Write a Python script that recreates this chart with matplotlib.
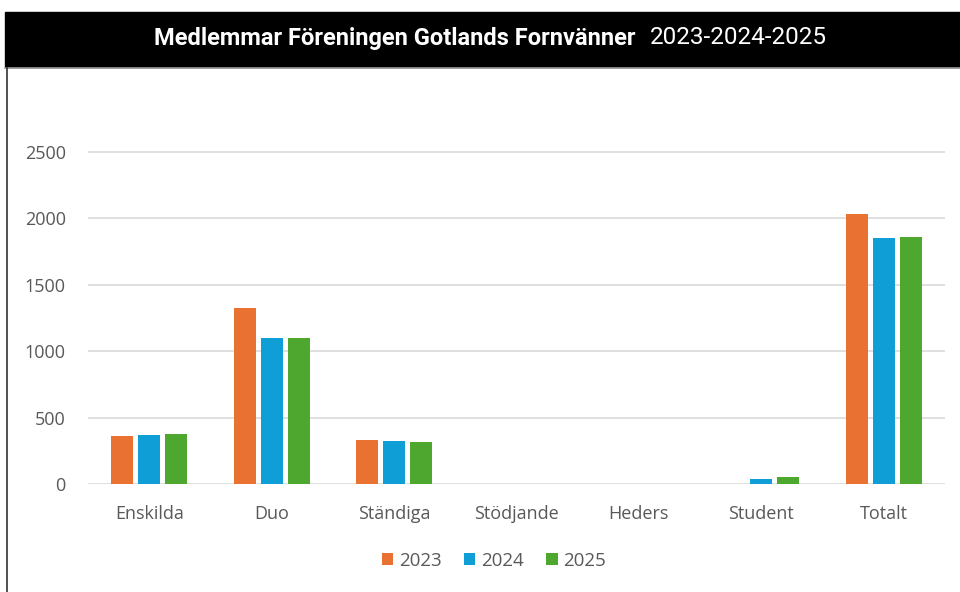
import numpy as np
import matplotlib
matplotlib.use("Agg")
import matplotlib.pyplot as plt
from matplotlib.patches import Rectangle
from matplotlib.lines import Line2D

categories = ['Enskilda', 'Duo', 'Ständiga', 'Stödjande', 'Heders', 'Student', 'Totalt']
years = ['2023', '2024', '2025']
v2023 = [361, 1325, 331, 0, 0, 0, 2031]
v2024 = [369, 1099, 324, 0, 0, 35, 1850]
v2025 = [376, 1100, 316, 0, 0, 53, 1860]
colors = ['#E97132', '#0F9ED5', '#4EA72E']

plt.rcParams['font.family'] = ['Open Sans', 'DejaVu Sans']

fig = plt.figure(figsize=(9.6, 5.92), dpi=100)

# black title band and frame
fig.patches.append(Rectangle((5 / 960, 1 - 67 / 592), 955 / 960, 55 / 592,
                             transform=fig.transFigure, color='black', zorder=0))
fig.lines.append(Line2D([5 / 960, 1], [1 - 68 / 592] * 2, transform=fig.transFigure,
                        color='#9a9a9a', lw=1.2))
fig.lines.append(Line2D([7 / 960] * 2, [0, 1 - 68 / 592], transform=fig.transFigure,
                        color='#333333', lw=1.2))

fig.text(0.6625, 1 - 38 / 592, 'Medlemmar Föreningen Gotlands Fornvänner',
         color='white', fontsize=17, fontweight='bold', ha='right', va='center',
         family=['Roboto', 'DejaVu Sans'])
fig.text(0.677, 1 - 38 / 592, '2023-2024-2025',
         color='white', fontsize=17.5, ha='left', va='center',
         family=['Roboto', 'DejaVu Sans'])

ax = fig.add_axes([88 / 960, 108 / 592, 857 / 960, 358.6 / 592])

x = np.arange(len(categories))
w = 0.18
step = 0.22
for i, (vals, yr) in enumerate(zip([v2023, v2024, v2025], years)):
    ax.bar(x + (i - 1) * step, vals, width=w, color=colors[i], label=yr, zorder=3)

ax.set_xlim(-0.5, len(categories) - 0.5)
ax.set_ylim(0, 2700)
ax.set_yticks([0, 500, 1000, 1500, 2000, 2500])
ax.set_xticks(x)
ax.set_xticklabels(categories)
ax.tick_params(axis='both', length=0, labelsize=13, labelcolor='#595959')
ax.tick_params(axis='x', pad=15)
ax.tick_params(axis='y', pad=16)
ax.grid(axis='y', color='#D9D9D9', lw=1.2, zorder=0)
for s in ax.spines.values():
    s.set_visible(False)

fig.legend(loc='center', bbox_to_anchor=(494 / 960, 1 - 561 / 592), ncol=3,
           frameon=False, fontsize=13.5, labelcolor='#595959',
           handlelength=0.6, handleheight=0.6, handletextpad=0.3, columnspacing=1.2)

fig.savefig('out.png', dpi=100)
